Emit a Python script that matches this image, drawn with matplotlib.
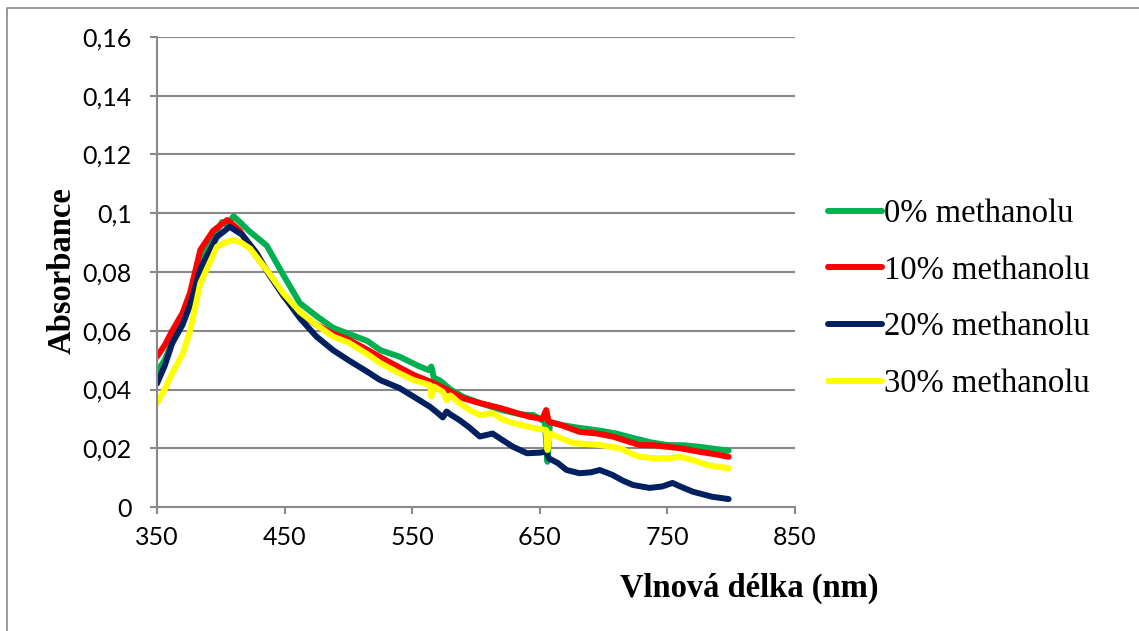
import matplotlib.pyplot as plt
from matplotlib.lines import Line2D

# absorption spectra, wavelength [nm] / absorbance, one pair per methanol fraction
wl_0 = [350, 356, 362, 376, 384, 394, 401, 405, 410, 415, 422, 436, 449, 462, 475,
        488, 500, 515, 525, 540, 555, 563, 565, 567, 572, 580, 590, 603, 620, 635,
        645, 654, 656, 658, 666, 680, 697, 710, 723, 737, 750, 763, 775, 787, 798]
abs_0 = [0.046, 0.050, 0.056, 0.070, 0.083, 0.092, 0.097, 0.096, 0.099, 0.097, 0.094,
         0.089, 0.079, 0.0694, 0.065, 0.061, 0.059, 0.0565, 0.0534, 0.0512, 0.048,
         0.0466, 0.0478, 0.044, 0.043, 0.040, 0.0375, 0.0354, 0.033, 0.0315, 0.0313,
         0.029, 0.0154, 0.029, 0.028, 0.027, 0.026, 0.025, 0.0235, 0.022, 0.0211,
         0.021, 0.0205, 0.0198, 0.0192]

wl_10 = [350, 356, 362, 370, 376, 384, 394, 400, 405, 410, 415, 425, 436, 449, 462,
         475, 488, 500, 515, 525, 540, 551, 564, 577, 590, 603, 619, 632, 642, 652,
         655, 657, 666, 681, 695, 707, 718, 728, 740, 750, 760, 775, 787, 798]
abs_10 = [0.0512, 0.055, 0.060, 0.066, 0.073, 0.0875, 0.094, 0.096, 0.0977, 0.096,
          0.094, 0.087, 0.0807, 0.072, 0.066, 0.062, 0.059, 0.057, 0.0535, 0.051,
          0.0475, 0.045, 0.0427, 0.040, 0.037, 0.0354, 0.0337, 0.032, 0.0307, 0.030,
          0.033, 0.029, 0.028, 0.0256, 0.025, 0.024, 0.0225, 0.0211, 0.021, 0.0205,
          0.020, 0.0188, 0.018, 0.0171]

wl_20 = [350, 356, 362, 370, 376, 384, 397, 403, 407, 412, 417, 428, 438, 449, 462,
         475, 488, 500, 515, 525, 540, 551, 564, 570, 574, 577, 580, 587, 595, 603,
         613, 620, 629, 640, 650, 655, 657, 664, 671, 681, 690, 697, 707, 715, 723,
         736, 746, 754, 760, 770, 785, 798]
abs_20 = [0.042, 0.048, 0.0558, 0.062, 0.0688, 0.081, 0.092, 0.094, 0.0954, 0.094,
          0.0926, 0.0865, 0.079, 0.072, 0.0643, 0.058, 0.0534, 0.050, 0.046, 0.0432,
          0.0405, 0.0376, 0.0341, 0.032, 0.0305, 0.0325, 0.0315, 0.0296, 0.027, 0.024,
          0.025, 0.023, 0.0205, 0.0183, 0.0185, 0.0188, 0.0166, 0.015, 0.0126, 0.0115,
          0.0118, 0.0126, 0.0109, 0.009, 0.0075, 0.0065, 0.007, 0.0082, 0.007, 0.0052,
          0.0035, 0.0027]

wl_30 = [350, 356, 362, 370, 376, 384, 397, 403, 410, 416, 423, 436, 449, 462, 475,
         488, 500, 515, 525, 540, 551, 564, 565, 567, 574, 577, 580, 587, 595, 603,
         613, 620, 629, 645, 655, 656, 658, 666, 676, 697, 713, 720, 728, 740, 750,
         760, 770, 781, 790, 798]
abs_30 = [0.0354, 0.040, 0.0456, 0.052, 0.060, 0.0762, 0.0886, 0.090, 0.0909, 0.090,
          0.088, 0.0807, 0.0728, 0.0664, 0.062, 0.058, 0.056, 0.052, 0.049, 0.0455,
          0.0432, 0.0415, 0.0376, 0.041, 0.0392, 0.0364, 0.038, 0.0354, 0.033, 0.0313,
          0.032, 0.030, 0.0286, 0.0269, 0.0262, 0.0194, 0.025, 0.0235, 0.0218, 0.0211,
          0.020, 0.0185, 0.0171, 0.0166, 0.0166, 0.0171, 0.016, 0.0143, 0.0137, 0.0132]

labels = ['0% methanolu', '10% methanolu', '20% methanolu', '30% methanolu']
colors = ['#00B050', '#FF0000', '#002060', '#FFFF00']

x_ticks = [350, 450, 550, 650, 750, 850]
y_ticks = [0, 0.02, 0.04, 0.06, 0.08, 0.1, 0.12, 0.14, 0.16]
y_tick_labels = ['0', '0,02', '0,04', '0,06', '0,08', '0,1', '0,12', '0,14', '0,16']

grey = '#898989'

fig = plt.figure(figsize=(11.39, 6.31), dpi=100)
ax = fig.add_axes([0.1378, 0.1965, 0.5602, 0.7449])

series = [(wl_0, abs_0), (wl_10, abs_10), (wl_20, abs_20), (wl_30, abs_30)]
for (wl, a), lab, c in zip(series, labels, colors):
    ax.plot(wl, a, color=c, lw=4.3, label=lab, solid_capstyle='round',
            solid_joinstyle='round')

ax.set_xlim(350, 850)
ax.set_ylim(0, 0.16)
ax.set_xticks(x_ticks)
ax.set_yticks(y_ticks)
ax.set_yticklabels(y_tick_labels)
ax.yaxis.grid(True, color=grey, lw=1.5)
ax.set_axisbelow(True)
for side in ['top', 'right']:
    ax.spines[side].set_visible(False)
for side in ['left', 'bottom']:
    ax.spines[side].set_color(grey)
    ax.spines[side].set_linewidth(1.5)
ax.tick_params(axis='both', direction='out', length=5, width=1.5, color=grey,
               labelsize=18, labelcolor='black')
ax.tick_params(axis='y', pad=13)
ax.tick_params(axis='x', pad=9)
for t in ax.get_xticklabels() + ax.get_yticklabels():
    t.set_fontfamily('Lato')

fig.text(0.658, 0.068, 'Vlnová délka (nm)', family='Liberation Serif',
         weight='bold', fontsize=23.5, ha='center', va='center')
fig.text(0.0544, 0.5705, 'Absorbance', family='Liberation Serif', weight='bold',
         fontsize=23.5, ha='center', va='center', rotation=90)

fig.legend(loc='center left', bbox_to_anchor=(0.727, 0.5265), frameon=False,
           prop={'family': 'Liberation Serif', 'size': 23.5}, handlelength=1.65,
           handletextpad=0.05, labelspacing=0.8, borderpad=0, borderaxespad=0)

# outer border of the chart area (cut off on the right and bottom)
bx = 6.5 / 1139
by = 1 - 7.5 / 631
fig.add_artist(Line2D([bx, bx, 1], [0, by, by], color=grey, lw=1.2,
                      transform=fig.transFigure))

plt.savefig('out.png', dpi=100)
